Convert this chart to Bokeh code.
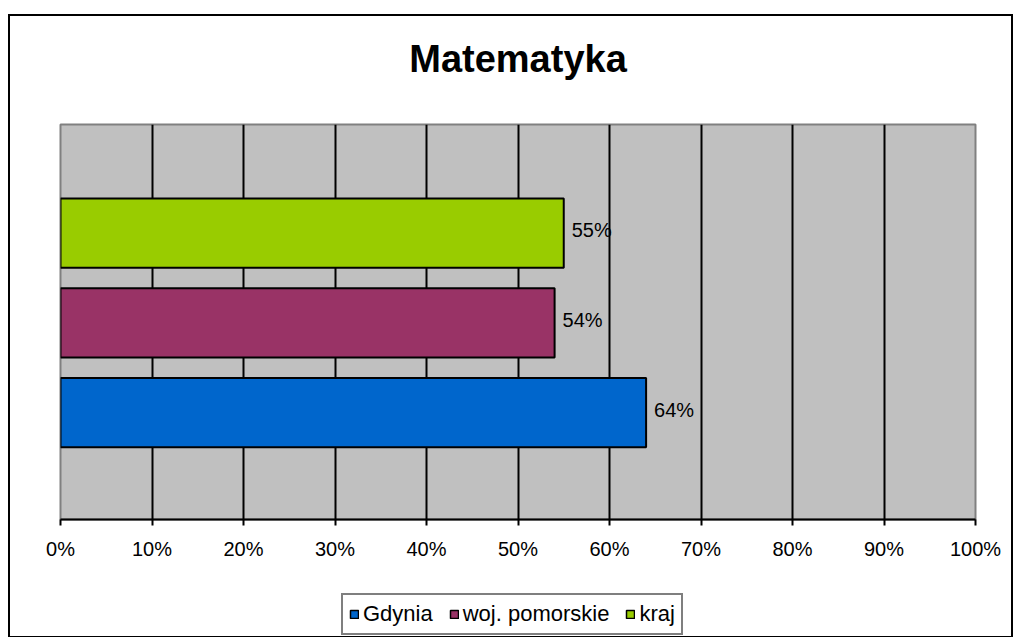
from bokeh.plotting import figure
from bokeh.layouts import column
from bokeh.models import (Range1d, PrintfTickFormatter, FixedTicker,
                          ColumnDataSource)
from bokeh.core.properties import value
from bokeh.embed import file_html
from bokeh.resources import INLINE

# ---- data ----
title_text = "Matematyka"
series = ["Gdynia", "woj. pomorskie", "kraj"]
values = [64, 54, 55]
colors = ["#0066CC", "#993366", "#99CC00"]
x_ticks = [0, 10, 20, 30, 40, 50, 60, 70, 80, 90, 100]
grid_ticks = [10, 20, 30, 40, 50, 60, 70, 80, 90]

FONT = "Liberation Sans"

src = ColumnDataSource(dict(
    y=list(range(len(series))),
    value=values,
    series=series,
    color=colors,
    label=[f"{v}%" for v in values],
))

# ---- main chart ----
p = figure(width=1001, height=548, output_backend="svg", toolbar_location=None,
           x_range=Range1d(0, 100), y_range=Range1d(-1.19, 3.21),
           min_border_left=50, min_border_right=36,
           min_border_top=108, min_border_bottom=45)

xax = p.xaxis[0]

p.border_fill_color = "white"
p.background_fill_color = "#C0C0C0"
p.outline_line_color = "#808080"
p.outline_line_width = 2

# title
p.title.text = title_text
p.title.align = "center"
p.title.text_font = FONT
p.title.text_font_size = "38px"
p.title.text_font_style = "bold"
p.title.text_color = "black"
p.title.standoff = 10
p.title.padding = {"left": 0, "right": 0, "top": 0, "bottom": 40}

# axes
p.yaxis.visible = False
xax.ticker = FixedTicker(ticks=x_ticks)
xax.formatter = PrintfTickFormatter(format="%d%%")
xax.axis_line_color = "black"
xax.axis_line_width = 2
xax.major_tick_line_color = "black"
xax.major_tick_line_width = 2
xax.major_tick_in = 0
xax.major_tick_out = 6
xax.minor_tick_line_color = None
xax.major_label_text_font = FONT
xax.major_label_text_font_size = "20px"
xax.major_label_text_color = "black"
xax.major_label_standoff = 12

# grid
p.ygrid.visible = False
p.xgrid.ticker = FixedTicker(ticks=grid_ticks)
p.xgrid.grid_line_color = "black"
p.xgrid.grid_line_width = 2

# bars
p.hbar(y="y", left=0, right="value", height=0.77, source=src,
       fill_color="color", line_color="black", line_width=2)

p.text(x="value", y="y", text="label", source=src, x_offset=8, y_offset=-3,
       text_baseline="middle", text_align="left",
       text_font=value(FONT), text_font_size="20px", text_color="black")

# ---- legend strip ----
q = figure(width=1001, height=72, output_backend="svg", toolbar_location=None,
           x_range=Range1d(0, 100), y_range=Range1d(-1.19, 3.21),
           x_axis_location=None, y_axis_location=None, min_border=0)
q.grid.visible = False
q.outline_line_color = None
q.border_fill_color = "white"
q.background_fill_color = "white"
legend_bars = q.hbar(y="y", left=0, right="value", height=0.77, source=src,
                     fill_color="color", line_color="black", line_width=1.5,
                     legend_field="series")
legend_bars.visible = False

leg = q.legend[0]
leg.orientation = "horizontal"
leg.location = (281, 1)
leg.margin = 0
leg.padding = 6
leg.spacing = 16
leg.label_standoff = 4
leg.glyph_width = 10
leg.glyph_height = 10
leg.label_text_font = FONT
leg.label_text_font_size = "22px"
leg.label_text_color = "black"
leg.border_line_color = "black"
leg.border_line_width = 2
leg.background_fill_color = "white"
leg.background_fill_alpha = 1
leg.inactive_fill_alpha = 0
leg.click_policy = "none"

layout = column(p, q, margin=(14, 0, 0, 8),
                styles={"border": "2px solid black"})

open("out.html", "w").write(file_html(layout, INLINE))
